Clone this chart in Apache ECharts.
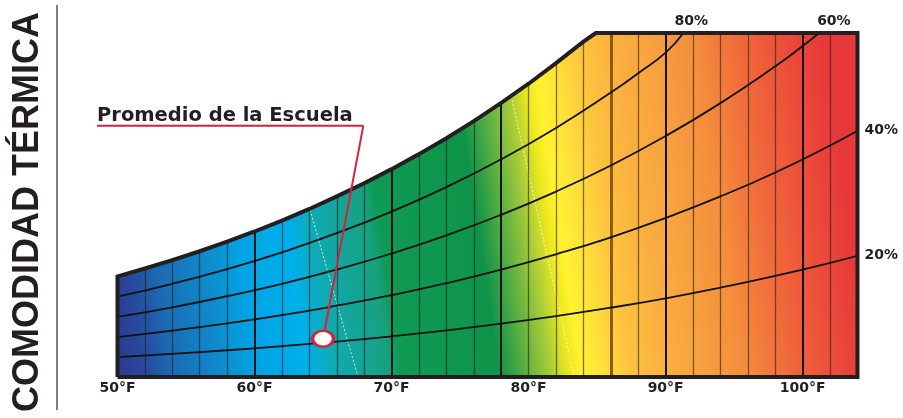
<!DOCTYPE html>
<html>
<head>
<meta charset="utf-8">
<script src="https://cdn.jsdelivr.net/npm/echarts@6/dist/echarts.min.js"></script>
<style>
  html, body { margin: 0; padding: 0; background: #fff; }
  #chart { width: 903px; height: 418px; }
</style>
</head>
<body>
<div id="chart"></div>
<script>
  // temperatura (°F) / razón de humedad (g/kg)
  const satTemps = [50, 52, 54, 56, 58, 60, 62, 64, 66, 68, 70, 72, 74, 76, 78, 80, 82, 84, 84.9];
  const satW = [7.63, 8.23, 8.87, 9.54, 10.27, 11.04, 11.87, 12.75, 13.70, 14.70, 15.77, 16.91, 18.12, 19.41, 20.80, 22.25, 23.81, 25.45, 26.1];
  const topW = 26.1;
  const maxTemp = 104;

  const rh80Temps = [50, 54, 58, 62, 66, 70, 74, 78, 82, 86, 88, 90, 91.3];
  const rh80 = [6.09, 7.07, 8.19, 9.46, 10.91, 12.55, 14.41, 16.52, 18.90, 21.58, 23.05, 24.61, 26.1];
  const rh60Temps = [50, 54, 58, 62, 66, 70, 74, 78, 82, 86, 90, 94, 98, 100, 101.2];
  const rh60 = [4.56, 5.29, 6.13, 7.07, 8.15, 9.37, 10.75, 12.31, 14.07, 16.05, 18.28, 20.78, 23.57, 25.11, 26.1];
  const rhTemps = [50, 54, 58, 62, 66, 70, 74, 78, 82, 86, 90, 94, 98, 102, 104];
  const rh40 = [3.03, 3.52, 4.07, 4.69, 5.41, 6.21, 7.12, 8.15, 9.31, 10.60, 12.07, 13.70, 15.52, 17.56, 18.68];
  const rh20 = [1.51, 1.76, 2.03, 2.34, 2.69, 3.09, 3.54, 4.05, 4.62, 5.26, 5.97, 6.78, 7.67, 8.66, 9.20];

  const gridTemps = [52, 54, 56, 58, 62, 64, 66, 68, 72, 74, 76, 80, 82, 84, 88, 92, 94, 96, 98, 102];
  const majorTemps = [60, 70, 78, 90, 100];
  const brownTemps = [86];
  const tickLabels = [50, 60, 70, 80, 90, 100];

  // costuras blancas del degradado
  const seams = [[[64.05, 12.67], [67.5, 0.2]], [[78.8, 21.0], [83.3, 0.2]]];

  const school = [65.0, 2.90];
  const leaderCorner = [67.94, 19.07];

  function zip(xs, ys) {
    return xs.map((x, i) => [x, ys[i]]);
  }

  function topAt(t) {
    let i = satTemps.indexOf(t);
    return i >= 0 ? satW[i] : topW;
  }

  function vLines(temps) {
    return temps.map(t => ({ coords: [[t, 0], [t, topAt(t)]] }));
  }

  let satLine = zip(satTemps, satW).concat([[maxTemp, topW]]);
  let outline = [[50, 0]].concat(satLine, [[maxTemp, 0], [50, 0]]);

  let chart = echarts.init(document.getElementById('chart'));

  let fill = new echarts.graphic.LinearGradient(0, 1, 1, 0.677, [
    { offset: 0.000, color: '#2b3990' },
    { offset: 0.038, color: '#27499c' },
    { offset: 0.075, color: '#1c6bb3' },
    { offset: 0.146, color: '#0c8fd0' },
    { offset: 0.187, color: '#02a3e4' },
    { offset: 0.254, color: '#00b0eb' },
    { offset: 0.289, color: '#10aab3' },
    { offset: 0.363, color: '#17a07c' },
    { offset: 0.376, color: '#0f9a55' },
    { offset: 0.506, color: '#0e9448' },
    { offset: 0.526, color: '#3aa345' },
    { offset: 0.573, color: '#a6cc38' },
    { offset: 0.598, color: '#eee81c' },
    { offset: 0.614, color: '#fff22e' },
    { offset: 0.638, color: '#ffe33a' },
    { offset: 0.677, color: '#fdc43e' },
    { offset: 0.722, color: '#fbb040' },
    { offset: 0.770, color: '#f7a23f' },
    { offset: 0.831, color: '#f48c3c' },
    { offset: 0.889, color: '#f0693a' },
    { offset: 0.942, color: '#ec503a' },
    { offset: 0.979, color: '#e9403a' },
    { offset: 1.000, color: '#e8383a' }
  ]);

  let labelFont = { fontFamily: 'DejaVu Sans', fontWeight: 'bold', fontSize: 14, color: '#231f20' };

  function rhSeries(temps, vals, text, offset) {
    return {
      type: 'line',
      data: zip(temps, vals),
      smooth: true,
      showSymbol: false,
      silent: true,
      z: 4,
      lineStyle: { color: '#111', width: 1.8 },
      endLabel: Object.assign({ show: true, formatter: text, offset: offset }, labelFont)
    };
  }

  let option = {
    animation: false,
    grid: { left: 117.5, right: 45.5, top: 33, bottom: 41 },
    xAxis: {
      type: 'value',
      min: 50,
      max: maxTemp,
      interval: 10,
      axisLine: { show: false },
      axisTick: { show: false },
      splitLine: { show: false },
      axisLabel: Object.assign({
        margin: 4,
        formatter: v => tickLabels.indexOf(v) >= 0 ? v + '°F' : ''
      }, labelFont)
    },
    yAxis: { type: 'value', min: 0, max: topW, show: false },
    graphic: [
      {
        id: 'title', type: 'text', x: 28, y: 212, rotation: Math.PI / 2,
        style: {
          text: 'COMODIDAD TÉRMICA', font: 'bold 36px "Liberation Sans"',
          fill: '#231f20', align: 'center', verticalAlign: 'middle'
        }
      },
      {
        id: 'sep', type: 'line', shape: { x1: 57, y1: 5, x2: 57, y2: 410 },
        style: { stroke: '#7f7f7f', lineWidth: 2 }
      },
      {
        id: 'promedio', type: 'text', x: 97, y: 106, z: 10,
        style: {
          text: 'Promedio de la Escuela', font: 'bold 19.5px "DejaVu Sans"',
          fill: '#231f20', verticalAlign: 'top'
        }
      }
    ],
    series: [
      {
        type: 'line',
        data: satLine,
        showSymbol: false,
        silent: true,
        z: 1,
        lineStyle: { width: 0 },
        areaStyle: { color: fill, opacity: 1 }
      },
      {
        type: 'lines', coordinateSystem: 'cartesian2d', silent: true, z: 2,
        data: seams.map(s => ({ coords: s })),
        lineStyle: { color: 'rgba(255,255,255,0.75)', width: 1, type: [2, 2], opacity: 1 }
      },
      {
        type: 'lines', coordinateSystem: 'cartesian2d', silent: true, z: 2,
        data: vLines(gridTemps),
        lineStyle: { color: 'rgba(35,31,32,0.6)', width: 1.3, opacity: 1 }
      },
      {
        type: 'lines', coordinateSystem: 'cartesian2d', silent: true, z: 3,
        data: vLines(brownTemps),
        lineStyle: { color: '#8c5a12', width: 3, opacity: 1 }
      },
      {
        type: 'lines', coordinateSystem: 'cartesian2d', silent: true, z: 3,
        data: vLines(majorTemps),
        lineStyle: { color: '#111', width: 2, opacity: 1 }
      },
      rhSeries(rh80Temps, rh80, '80%', [-17, -12]),
      rhSeries(rh60Temps, rh60, '60%', [-10, -12]),
      rhSeries(rhTemps, rh40, '40%', [-1, 0]),
      rhSeries(rhTemps, rh20, '20%', [-1, 0]),
      {
        type: 'line',
        data: outline,
        showSymbol: false,
        silent: true,
        z: 5,
        lineStyle: { color: '#231f20', width: 4, join: 'miter' }
      },
      {
        type: 'line',
        data: [leaderCorner, school],
        showSymbol: false,
        silent: true,
        z: 6,
        lineStyle: { color: '#d7233a', width: 2 }
      },
      {
        type: 'scatter',
        data: [school],
        symbol: 'circle',
        symbolSize: [21, 16],
        silent: true,
        z: 7,
        itemStyle: { color: '#ffffff', opacity: 1, borderColor: '#d7233a', borderWidth: 3 }
      }
    ]
  };

  chart.setOption(option);

  // subrayado del rótulo hasta la esquina de la guía
  let corner = chart.convertToPixel({ gridIndex: 0 }, leaderCorner);
  chart.setOption({
    graphic: [{
      id: 'underline', type: 'line', z: 10,
      shape: { x1: 97, y1: corner[1], x2: corner[0], y2: corner[1] },
      style: { stroke: '#d7233a', lineWidth: 2 }
    }]
  });
</script>
</body>
</html>
